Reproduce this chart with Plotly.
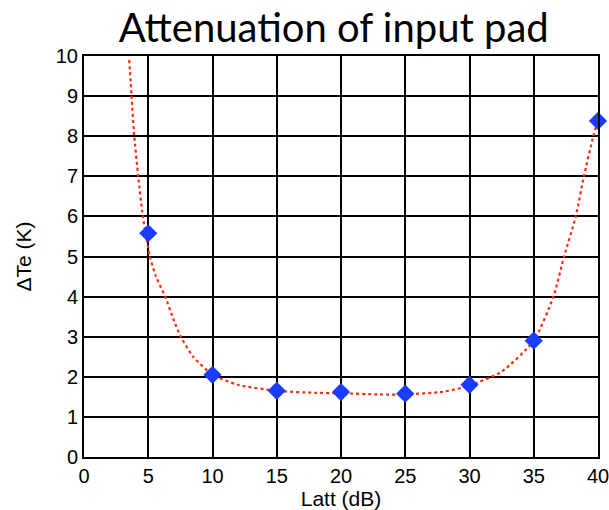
import plotly.graph_objects as go

# Measured excess noise temperature vs. input pad attenuation
latt_db = [5, 10, 15, 20, 25, 30, 35, 40]
delta_te = [5.58, 2.05, 1.65, 1.62, 1.58, 1.8, 2.9, 8.38]

# Fitted trend curve (sampled along the fit)
fit_x = [3.52, 3.7, 3.91, 4.22, 4.58, 5.13, 5.6, 6.32, 7.0, 7.53, 8.5, 10.0, 12.0, 15.0,
         18.0, 20.0, 23.0, 25.0, 28.0, 30.0, 32.5, 35.0, 36.53, 37.36, 38.27, 38.9, 39.64, 40.0]
fit_y = [9.9, 9.0, 8.0, 7.0, 6.0, 5.0, 4.5, 4.0, 3.4, 3.0, 2.5, 2.05, 1.8, 1.65,
         1.6, 1.59, 1.56, 1.56, 1.63, 1.78, 2.13, 2.9, 4.0, 5.0, 6.0, 7.0, 8.0, 8.4]

x_ticks = [0, 5, 10, 15, 20, 25, 30, 35, 40]
y_ticks = list(range(0, 11))

fig = go.Figure()
fig.add_trace(go.Scatter(
    x=fit_x, y=fit_y, mode="lines",
    line=dict(color="#ff2a10", width=2.2, dash="dot", shape="spline", smoothing=0.6),
    hoverinfo="skip", showlegend=False,
))
fig.add_trace(go.Scatter(
    x=latt_db, y=delta_te, mode="markers",
    marker=dict(symbol="diamond", size=14, color="#1a3cff",
                line=dict(color="#1a3cff", width=0)),
    cliponaxis=False, showlegend=False,
))

axis_common = dict(
    showgrid=True, gridcolor="black", gridwidth=1.5,
    showline=True, linecolor="black", linewidth=2, mirror=True,
    zeroline=False, ticks="", ticklen=0, automargin=False,
    ticklabeloverflow="allow",
    tickfont=dict(family="Liberation Sans, Arial", size=20, color="black"),
)
title_font = dict(family="Liberation Sans, Arial", size=21, color="black")

fig.update_layout(
    width=609, height=510,
    margin=dict(l=84, r=11, t=56, b=53),
    paper_bgcolor="white", plot_bgcolor="white",
    title=dict(text="Attenuation of input pad", x=0.548, xanchor="center",
               y=0.945, yanchor="middle",
               font=dict(family="Lato, Open Sans", size=40, color="black")),
    xaxis=dict(range=[0, 40], tickvals=x_ticks, ticktext=[str(v) for v in x_ticks],
               title=dict(text="Latt (dB)", standoff=6, font=title_font),
               **axis_common),
    yaxis=dict(range=[0, 10], tickvals=y_ticks, ticktext=[str(v) for v in y_ticks],
               title=dict(text="ΔTe (K)", standoff=18, font=title_font),
               **axis_common),
)

fig.write_html("out.html")
